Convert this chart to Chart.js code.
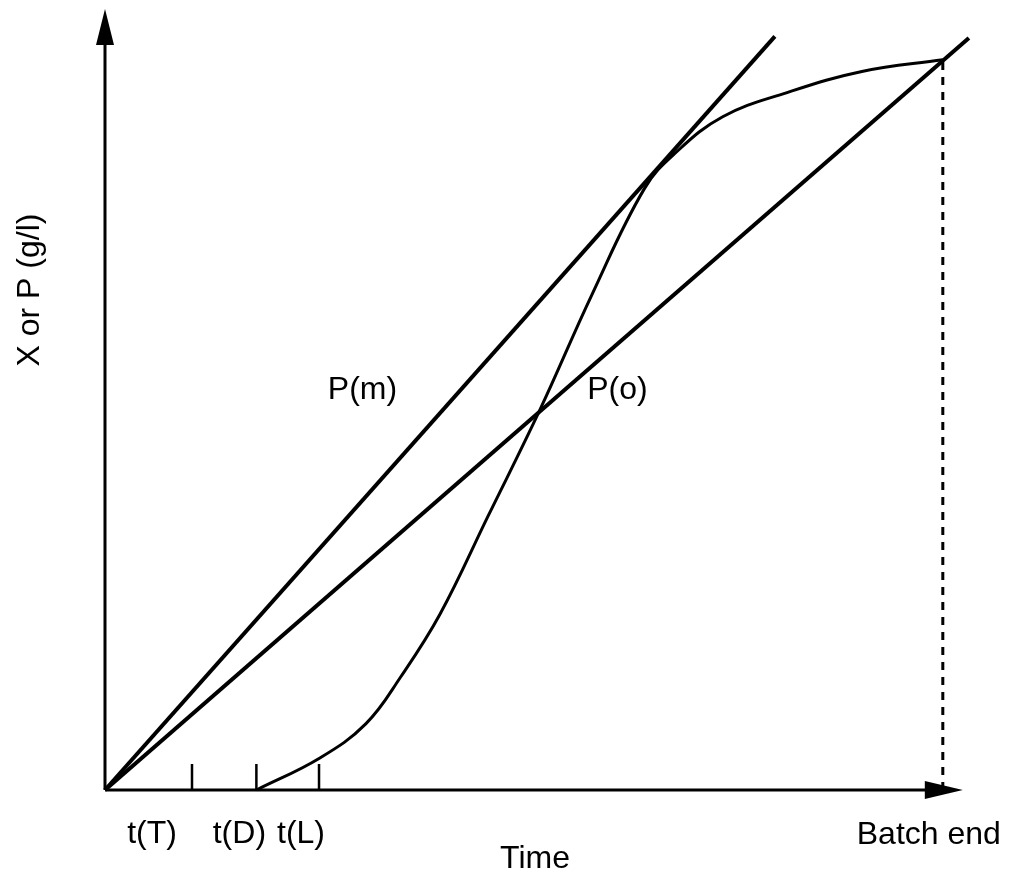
<!DOCTYPE html>
<html>
<head>
<meta charset="utf-8">
<script src="https://cdn.jsdelivr.net/npm/chart.js@4/dist/chart.umd.min.js"></script>
<style>
  body { margin: 0; background: #fff; }
  #wrap { width: 1010px; height: 874px; }
</style>
</head>
<body>
<div id="wrap"><canvas id="batchChart" width="1010" height="874"></canvas></div>
<script>
// Time axis runs 0..100, concentration axis 0..100 (arbitrary units)
const curveTime = [17.4, 24.7, 30.0, 34.0, 38.5, 44.0, 50.0, 56.0, 62.0, 65.5, 71.0, 78.4, 87.0, 96.3];
const curveConc = [0, 4.1, 8.5, 14.5, 22.5, 35.0, 48.7, 63.5, 77.0, 81.5, 86.2, 89.3, 92.0, 93.5];

const pmTime = [0, 77.0];
const pmConc = [0, 96.5];
const poTime = [0, 99.3];
const poConc = [0, 96.3];

const batchEnd = 96.3;
const tickTimes = [10.0, 17.4, 24.6];
const tickLabels = ['t(T)', 't(D)', 't(L)'];

const pairs = (xs, ys) => xs.map((x, i) => ({ x: x, y: ys[i] }));

const FONT = '32px "Liberation Sans", Arial, sans-serif';

// axes with arrow heads, tick marks and annotation text
const sketchAxes = {
  id: 'sketchAxes',
  beforeDatasetsDraw(chart) {
    const ctx = chart.ctx;
    const x = chart.scales.x;
    const y = chart.scales.y;
    const x0 = x.getPixelForValue(0);
    const y0 = y.getPixelForValue(0);
    const xEnd = x.getPixelForValue(98.6);
    const yTop = y.getPixelForValue(100);

    ctx.save();
    ctx.strokeStyle = '#000';
    ctx.fillStyle = '#000';
    ctx.lineWidth = 3;
    ctx.beginPath();
    ctx.moveTo(x0, y0);
    ctx.lineTo(x0, yTop + 30);
    ctx.moveTo(x0, y0);
    ctx.lineTo(xEnd - 30, y0);
    ctx.stroke();

    // arrow heads
    ctx.beginPath();
    ctx.moveTo(x0, yTop);
    ctx.lineTo(x0 - 9, yTop + 36);
    ctx.lineTo(x0 + 9, yTop + 36);
    ctx.closePath();
    ctx.fill();
    ctx.beginPath();
    ctx.moveTo(xEnd, y0);
    ctx.lineTo(xEnd - 38, y0 - 9);
    ctx.lineTo(xEnd - 38, y0 + 9);
    ctx.closePath();
    ctx.fill();

    // ticks on time axis
    ctx.lineWidth = 2.5;
    ctx.beginPath();
    tickTimes.forEach(t => {
      const px = x.getPixelForValue(t);
      ctx.moveTo(px, y0);
      ctx.lineTo(px, y0 - 26);
    });
    ctx.stroke();

    // text
    ctx.font = FONT;
    ctx.textAlign = 'center';
    ctx.textBaseline = 'middle';
    const labelOffsets = [-40, -17, -18];
    tickTimes.forEach((t, i) => {
      ctx.fillText(tickLabels[i], x.getPixelForValue(t) + labelOffsets[i], y0 + 44);
    });
    ctx.fillText('Batch end', x.getPixelForValue(batchEnd) - 14, y0 + 45);
    ctx.fillText('Time', 535, y0 + 69);
    ctx.fillText('P(m)', x.getPixelForValue(29.6), y.getPixelForValue(51.2));
    ctx.fillText('P(o)', x.getPixelForValue(58.9), y.getPixelForValue(51.2));

    ctx.translate(30, 290);
    ctx.rotate(-Math.PI / 2);
    ctx.fillText('X or P (g/l)', 0, 0);
    ctx.restore();
  }
};

new Chart(document.getElementById('batchChart'), {
  type: 'line',
  data: {
    datasets: [
      {
        label: 'P(m)',
        data: pairs(pmTime, pmConc),
        borderColor: '#000',
        borderWidth: 4,
        pointRadius: 0,
        clip: false
      },
      {
        label: 'P(o)',
        data: pairs(poTime, poConc),
        borderColor: '#000',
        borderWidth: 4,
        pointRadius: 0,
        clip: false
      },
      {
        label: 'X or P',
        data: pairs(curveTime, curveConc),
        borderColor: '#000',
        borderWidth: 3,
        pointRadius: 0,
        tension: 0.4,
        clip: false
      },
      {
        label: 'Batch end',
        data: [{ x: batchEnd, y: 0 }, { x: batchEnd, y: curveConc[curveConc.length - 1] }],
        borderColor: '#000',
        borderWidth: 3,
        borderDash: [8, 7],
        pointRadius: 0,
        clip: false
      }
    ]
  },
  options: {
    responsive: false,
    animation: false,
    layout: { padding: { left: 105, right: 35, top: 9, bottom: 84 } },
    plugins: {
      legend: { display: false },
      tooltip: { enabled: false }
    },
    scales: {
      x: { type: 'linear', min: 0, max: 100, display: false },
      y: { type: 'linear', min: 0, max: 100, display: false }
    }
  },
  plugins: [sketchAxes]
});
</script>
</body>
</html>
